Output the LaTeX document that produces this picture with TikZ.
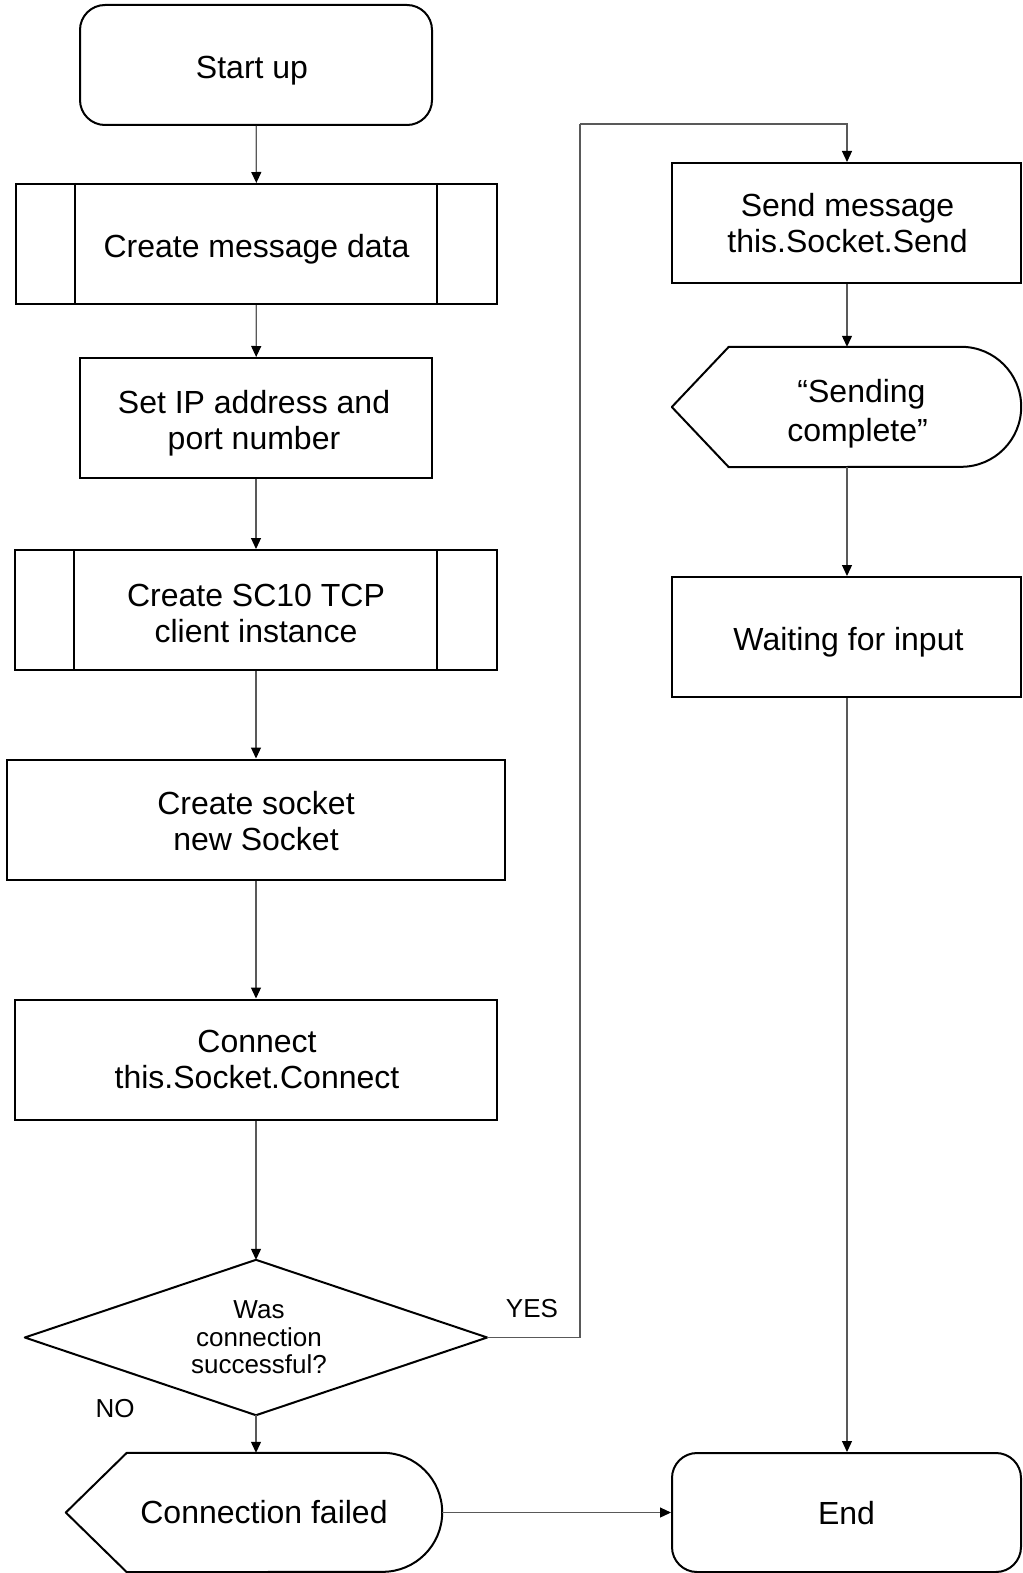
\documentclass[tikz,border=0pt]{standalone}
\usepackage{fontspec}
\setmainfont{Liberation Sans}
\usetikzlibrary{arrows.meta}
\begin{document}
\begin{tikzpicture}[x=1pt,y=-1pt,
  box/.style={draw=black,line width=2pt,minimum height=120pt,inner sep=0pt},
  ghost/.style={draw=none,minimum height=120pt,inner sep=0pt},
  txt/.style={inner sep=0pt,align=center,font=\fontsize{32}{36}\selectfont},
  outline/.style={draw=black,line width=2pt,line join=round},
  conn/.style={draw=black!65,line width=1.2pt,-{Triangle[width=10pt,length=11pt,fill=black,color=black]}},
  plain/.style={draw=black!65,line width=1.2pt},
  lbl/.style={font=\fontsize{26}{28}\selectfont,inner sep=0pt}]
\useasboundingbox (0,0) rectangle (1022,1573);

% left column
\node[box,rounded corners=25pt,minimum width=352pt] (start) at (256,65) {};
\node[txt] (startT) at ([xshift=-4pt,yshift=-6pt]start.center) {Start up};

\node[box,minimum width=481pt] (cmd) at (256.5,244) {};
\draw[line width=2pt] ([xshift=60pt]cmd.north west) -- ([xshift=60pt]cmd.south west)
                      ([xshift=-61pt]cmd.north east) -- ([xshift=-61pt]cmd.south east);
\node[txt] (cmdT) at ([yshift=-5pt]cmd.center) {Create message data};

\node[box,minimum width=352pt] (setip) at (256,418) {};
\node[txt] (setipT) at ([xshift=-2pt,yshift=-5pt]setip.center) {Set IP address and\\port number};

\node[box,minimum width=482pt] (sc10) at (256,610) {};
\draw[line width=2pt] ([xshift=60pt]sc10.north west) -- ([xshift=60pt]sc10.south west)
                      ([xshift=-61pt]sc10.north east) -- ([xshift=-61pt]sc10.south east);
\node[txt] (sc10T) at ([yshift=-3pt]sc10.center) {Create SC10 TCP\\client instance};

\node[box,minimum width=498pt] (sock) at (256,819.5) {};
\node[txt] (sockT) at ([yshift=-2pt]sock.center) {Create socket\\new Socket};

\node[box,minimum width=482pt] (cnct) at (256,1059.5) {};
\node[txt] (cnctT) at ([xshift=1pt]cnct.center) {Connect\\this.Socket.Connect};

\node[draw=none,minimum width=462pt,minimum height=155pt,inner sep=0pt] (dec) at (256,1337.5) {};
\draw[outline] (dec.west) -- (dec.north) -- (dec.east) -- (dec.south) -- cycle;
\node[inner sep=0pt,align=center,font=\fontsize{26}{27.5}\selectfont] (decT) at ([xshift=3pt]dec.center)
  {Was\\connection\\successful?};

\node[ghost,minimum width=376pt,minimum height=119pt] (cf) at (254,1512.5) {};
\draw[outline] (cf.west) -- ([xshift=61pt]cf.north west) -- ([xshift=-59.5pt]cf.north east)
  arc[start angle=90,end angle=-90,radius=59.5pt] -- ([xshift=61pt]cf.south west) -- cycle;
\node[txt] (cfT) at ([xshift=10pt]cf.center) {Connection failed};
\coordinate (cfR) at (cf.east);

% right column
\node[box,minimum width=349pt] (send) at (846.5,223) {};
\node[txt] (sendT) at ([xshift=1pt]send.center) {Send message\\this.Socket.Send};

\node[ghost,minimum width=349pt] (scmp) at (846.5,407) {};
\draw[outline] (scmp.west) -- ([xshift=57pt]scmp.north west) -- ([xshift=-60pt]scmp.north east)
  arc[start angle=90,end angle=-90,radius=60pt] -- ([xshift=57pt]scmp.south west) -- cycle;
\node[txt,font=\fontsize{32}{39}\selectfont] (scmpT) at ([xshift=11pt,yshift=-7pt]scmp.center)
  {\hspace*{8pt}“Sending\\complete”};

\node[box,minimum width=349pt] (wait) at (846.5,637) {};
\node[txt] (waitT) at ([xshift=2pt,yshift=-5pt]wait.center) {Waiting for input};

\node[box,rounded corners=25pt,minimum width=349pt,minimum height=119pt] (end) at (846.5,1512.5) {};
\node[txt] (endT) at ([yshift=-1pt]end.center) {End};

% connectors
\draw[conn] (start) -- (cmd);
\draw[conn] (cmd) -- (setip);
\draw[conn] (setip) -- (sc10);
\draw[conn] (sc10) -- (sock);
\draw[conn] (sock) -- (cnct);
\draw[conn] (cnct) -- (dec.north);
\draw[conn] (dec.south) -- (dec.south |- cf.north);
\coordinate (yk) at (580,124);
\draw[plain] (dec.east) -| (yk);
\draw[conn] (yk) -| ([xshift=0.5pt]send.north);
\draw[conn] ([xshift=0.5pt]send.south) -- ([xshift=0.5pt]scmp.north);
\draw[conn] ([xshift=0.5pt]scmp.south) -- ([xshift=0.5pt]wait.north);
\draw[conn] ([xshift=0.5pt]wait.south) -- ([xshift=0.5pt]end.north);
\draw[conn] (cfR) -- (end.west);

\node[lbl] (yes) at (532,1309) {YES};
\node[lbl] (no) at (115,1409) {NO};
\end{tikzpicture}
\end{document}
